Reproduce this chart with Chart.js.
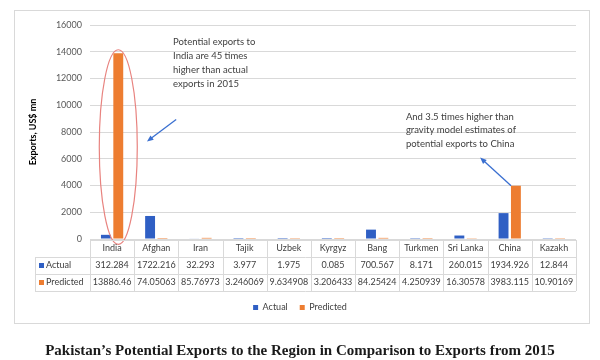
<!DOCTYPE html>
<html>
<head>
<meta charset="utf-8">
<script src="https://cdn.jsdelivr.net/npm/chart.js@4.4.1/dist/chart.umd.min.js"></script>
<style>
  html, body { margin: 0; padding: 0; background: #fff; }
  #wrap { width: 600px; height: 360px; }
</style>
</head>
<body>
<div id="wrap"><canvas id="exportaciones"></canvas></div>
<script>
const paises = ["India", "Afghan", "Iran", "Tajik", "Uzbek", "Kyrgyz", "Bang", "Turkmen", "Sri Lanka", "China", "Kazakh"];
const valores_actual = [312.284, 1722.216, 32.293, 3.977, 1.975, 0.085, 700.567, 8.171, 260.015, 1934.926, 12.844];
const valores_predicted = [13886.46, 74.05063, 85.76973, 3.246069, 9.634908, 3.206433, 84.25424, 4.250939, 16.30578, 3983.115, 10.90169];
const ticks_y = [0, 2000, 4000, 6000, 8000, 10000, 12000, 14000, 16000];

const nota_india = ["Potential exports to", "India are 45 times", "higher than actual", "exports in 2015"];
const nota_china = ["And 3.5 times higher than", "gravity model estimates of", "potential exports to China"];
const titulo = "Pakistan\u2019s Potential Exports to the Region in Comparison to Exports from 2015";

const colorActual = "#2f5fc4";
const colorPredicted = "#ed7d31";
const colorLinea = "#d9d9d9";
const colorTexto = "#404040";
const fuente = "Lato, 'Open Sans', sans-serif";

// marco gris alrededor del grafico
const caja = {
  id: "caja",
  beforeDraw(chart) {
    const c = chart.ctx;
    c.save();
    c.strokeStyle = colorLinea;
    c.lineWidth = 1;
    c.strokeRect(14.5, 10.5, 575, 313);
    c.restore();
  },
};

// tabla de datos debajo del eje x
const tabla = {
  id: "tabla",
  afterDraw(chart) {
    const c = chart.ctx;
    const x = chart.scales.x;
    const area = chart.chartArea;
    const ancho = (area.right - area.left) / paises.length;
    const top = area.bottom + 1;
    const filas = [top, top + 17, top + 34, top + 51];
    const izq = 35;

    c.save();
    c.strokeStyle = colorLinea;
    c.lineWidth = 1;
    c.beginPath();
    c.moveTo(area.left, filas[0] + 0.5);
    c.lineTo(area.right, filas[0] + 0.5);
    for (let r = 1; r < filas.length; r++) {
      c.moveTo(izq, filas[r] + 0.5);
      c.lineTo(area.right, filas[r] + 0.5);
    }
    for (let i = 0; i <= paises.length; i++) {
      const px = Math.round(area.left + i * ancho) + 0.5;
      c.moveTo(px, filas[0]);
      c.lineTo(px, filas[3]);
    }
    c.moveTo(izq + 0.5, filas[1]);
    c.lineTo(izq + 0.5, filas[3]);
    c.stroke();

    c.fillStyle = colorTexto;
    c.textAlign = "center";
    c.textBaseline = "middle";
    c.font = "9px " + fuente;
    paises.forEach((p, i) => {
      const cx = x.getPixelForValue(i);
      c.fillText(p, cx, filas[0] + 8.5);
      c.fillText(String(valores_actual[i]), cx, filas[1] + 8.5);
      c.fillText(String(valores_predicted[i]), cx, filas[2] + 8.5);
    });

    c.textAlign = "left";
    c.fillStyle = colorActual;
    c.fillRect(izq + 4, filas[1] + 6, 5, 5);
    c.fillStyle = colorPredicted;
    c.fillRect(izq + 4, filas[2] + 6, 5, 5);
    c.fillStyle = colorTexto;
    c.fillText("Actual", izq + 11, filas[1] + 8.5);
    c.fillText("Predicted", izq + 11, filas[2] + 8.5);
    c.restore();
  },
};

// elipse, flechas y notas
const anotaciones = {
  id: "anotaciones",
  afterDatasetsDraw(chart) {
    const c = chart.ctx;
    const x = chart.scales.x;
    const y = chart.scales.y;

    c.save();
    c.strokeStyle = "#e8837f";
    c.lineWidth = 1.2;
    c.beginPath();
    const cx = x.getPixelForValue(0.14);
    const cyTop = y.getPixelForValue(14150);
    const cyBot = y.getPixelForValue(-400);
    c.ellipse(cx, (cyTop + cyBot) / 2, 19, (cyBot - cyTop) / 2, 0, 0, Math.PI * 2);
    c.stroke();

    flecha(c, x.getPixelForValue(1.45), y.getPixelForValue(8940), x.getPixelForValue(0.79), y.getPixelForValue(7290));
    flecha(c, x.getPixelForValue(9.03), y.getPixelForValue(3980), x.getPixelForValue(8.33), y.getPixelForValue(6085));

    c.fillStyle = colorTexto;
    c.font = "9.5px " + fuente;
    c.textAlign = "left";
    c.textBaseline = "middle";
    const x1 = x.getPixelForValue(1.38);
    const y1 = y.getPixelForValue(14725);
    nota_india.forEach((t, i) => c.fillText(t, x1, y1 + i * 14));
    const x2 = x.getPixelForValue(6.65);
    const y2 = y.getPixelForValue(9140);
    nota_china.forEach((t, i) => c.fillText(t, x2, y2 + i * 13.5));
    c.restore();
  },
};

function flecha(c, x0, y0, x1, y1) {
  const ang = Math.atan2(y1 - y0, x1 - x0);
  c.save();
  c.strokeStyle = "#3a6fd0";
  c.fillStyle = "#3a6fd0";
  c.lineWidth = 1.3;
  c.beginPath();
  c.moveTo(x0, y0);
  c.lineTo(x1 - 4 * Math.cos(ang), y1 - 4 * Math.sin(ang));
  c.stroke();
  c.beginPath();
  c.moveTo(x1, y1);
  c.lineTo(x1 - 7 * Math.cos(ang - 0.4), y1 - 7 * Math.sin(ang - 0.4));
  c.lineTo(x1 - 7 * Math.cos(ang + 0.4), y1 - 7 * Math.sin(ang + 0.4));
  c.closePath();
  c.fill();
  c.restore();
}

function grafico_exportaciones() {
  const ctx = document.getElementById("exportaciones");
  new Chart(ctx, {
    type: "bar",
    data: {
      labels: paises,
      datasets: [
        {
          label: "Actual",
          data: valores_actual,
          backgroundColor: colorActual,
          categoryPercentage: 0.56,
          barPercentage: 0.8,
        },
        {
          label: "Predicted",
          data: valores_predicted,
          backgroundColor: colorPredicted,
          categoryPercentage: 0.56,
          barPercentage: 0.8,
        },
      ],
    },
    options: {
      responsive: true,
      maintainAspectRatio: false,
      animation: false,
      layout: { padding: { left: 24, right: 24, top: 25, bottom: 0 } },
      plugins: {
        legend: {
          position: "bottom",
          labels: {
            boxWidth: 5,
            boxHeight: 5,
            padding: 12,
            color: colorTexto,
            font: { family: fuente, size: 9 },
          },
        },
        title: {
          display: true,
          position: "bottom",
          text: titulo,
          color: "#1a1a1a",
          font: { family: "'Liberation Serif', serif", size: 15, weight: "bold" },
          padding: { top: 20, bottom: 0 },
        },
        tooltip: { enabled: false },
      },
      scales: {
        x: {
          grid: { display: false },
          border: { display: false },
          ticks: { display: false },
          afterFit: (s) => { s.height = 52; },
        },
        y: {
          min: 0,
          max: 16000,
          afterBuildTicks: (s) => { s.ticks = ticks_y.map((v) => ({ value: v })); },
          ticks: {
            color: "#595959",
            padding: 8,
            font: { family: fuente, size: 9 },
            callback: (v) => String(v),
          },
          grid: { color: colorLinea, drawTicks: false },
          border: { display: false },
          title: {
            display: true,
            text: "Exports, US$ mn",
            color: "#000",
            font: { family: fuente, size: 9, weight: "bold" },
            padding: { top: 4, bottom: 0 },
          },
          afterFit: (s) => { s.width = 66; },
        },
      },
    },
    plugins: [caja, tabla, anotaciones],
  });
}

grafico_exportaciones();
</script>
</body>
</html>
